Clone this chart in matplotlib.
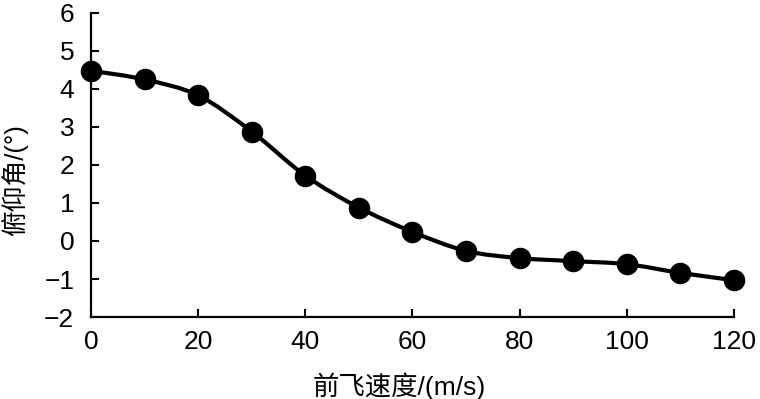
import numpy as np
import matplotlib
matplotlib.use("Agg")
import matplotlib.pyplot as plt
from matplotlib.path import Path
from matplotlib.patches import PathPatch

plt.rcParams["font.family"] = ["Liberation Sans", "Noto Sans CJK SC", "DejaVu Sans"]

speed = [0, 10, 20, 30, 40, 50, 60, 70, 80, 90, 100, 110, 120]
pitch = [4.48, 4.25, 3.83, 2.88, 1.72, 0.88, 0.24, -0.26, -0.45, -0.53, -0.61, -0.84, -1.03]
x_ticks = [0, 20, 40, 60, 80, 100, 120]
y_ticks = [-2, -1, 0, 1, 2, 3, 4, 5, 6]

fig = plt.figure(figsize=(7.6, 3.99), dpi=100)
ax = fig.add_axes([0.1197, 0.2055, 0.8461, 0.7620])

# smooth curve through points (Catmull-Rom as cubic Bezier segments)
x = np.array(speed, dtype=float)
y = np.array(pitch, dtype=float)
verts = [(x[0], y[0])]
codes = [Path.MOVETO]
n = len(x)
for i in range(n - 1):
    p0 = np.array([x[max(i - 1, 0)], y[max(i - 1, 0)]])
    p1 = np.array([x[i], y[i]])
    p2 = np.array([x[i + 1], y[i + 1]])
    p3 = np.array([x[min(i + 2, n - 1)], y[min(i + 2, n - 1)]])
    c1 = p1 + (p2 - p0) / 6
    c2 = p2 - (p3 - p1) / 6
    verts += [tuple(c1), tuple(c2), tuple(p2)]
    codes += [Path.CURVE4] * 3
ax.add_patch(PathPatch(Path(verts, codes), fill=False, edgecolor="black",
                       linewidth=3, clip_on=False, zorder=2))
ax.plot(speed, pitch, linestyle="none", marker="o", markersize=14.5,
        color="black", clip_on=False, zorder=3)

ax.set_xlim(0, 120)
ax.set_ylim(-2, 6)
ax.set_xticks(x_ticks)
ax.set_yticks(y_ticks)
ax.set_yticklabels([str(v).replace("-", "\u2212") for v in y_ticks])
ax.tick_params(direction="in", length=6, width=1.5, labelsize=19, colors="black")
ax.tick_params(axis="x", pad=9)
ax.tick_params(axis="y", pad=12)
for s in ["top", "right"]:
    ax.spines[s].set_visible(False)
for s in ["left", "bottom"]:
    ax.spines[s].set_linewidth(1.6)

ax.set_xlabel("前飞速度/(m/s)", fontsize=19)
ax.set_ylabel("俯仰角/(°)", fontsize=18.5)
ax.xaxis.set_label_coords(0.48, -0.181)
ax.yaxis.set_label_coords(-0.097, 0.45)

fig.savefig("out.png", dpi=100)
